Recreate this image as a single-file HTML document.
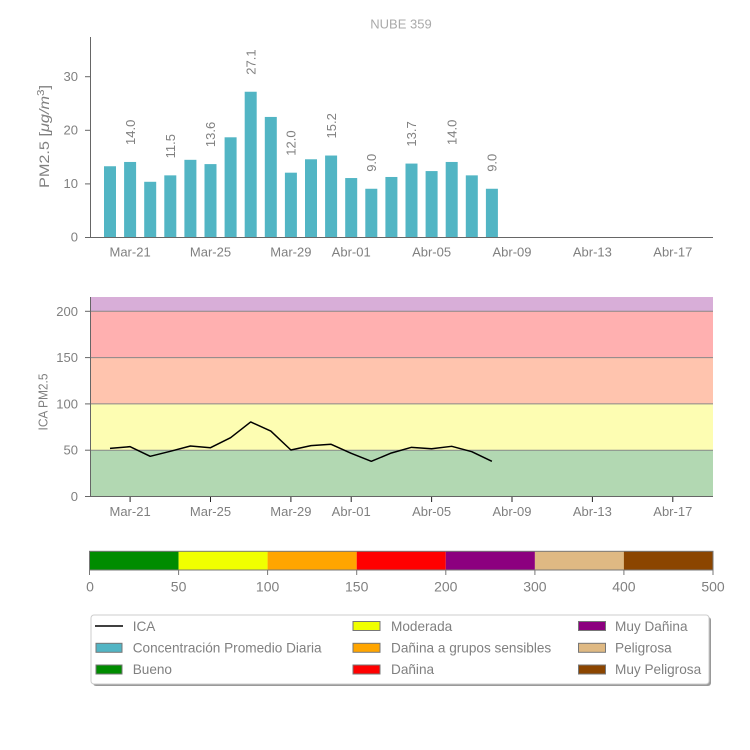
<!DOCTYPE html>
<html><head><meta charset="utf-8"><style>
html,body{margin:0;padding:0;background:#fff;}
svg{display:block;}
text{font-family:"Liberation Sans",sans-serif;fill:#808080;}
</style></head><body>
<svg width="750" height="750" viewBox="0 0 750 750" xmlns="http://www.w3.org/2000/svg">
<rect width="750" height="750" fill="#fff"/>
<!-- Title -->
<text x="401" y="28.5" font-size="13" text-anchor="middle" fill="#aaaaaa" style="fill:#aaaaaa">NUBE 359</text>

<!-- TOP CHART -->
<g fill="#52b5c4">
<rect x="104" y="166.25" width="12" height="70.75"/>
<rect x="124.1" y="161.96" width="12" height="75.04"/>
<rect x="144.2" y="181.79" width="12" height="55.21"/>
<rect x="164.3" y="175.36" width="12" height="61.64"/>
<rect x="184.4" y="159.82" width="12" height="77.18"/>
<rect x="204.5" y="164.1" width="12" height="72.9"/>
<rect x="224.6" y="137.3" width="12" height="99.7"/>
<rect x="244.7" y="91.74" width="12" height="145.26"/>
<rect x="264.8" y="116.94" width="12" height="120.06"/>
<rect x="284.9" y="172.68" width="12" height="64.32"/>
<rect x="305" y="159.28" width="12" height="77.72"/>
<rect x="325.1" y="155.53" width="12" height="81.47"/>
<rect x="345.2" y="178.04" width="12" height="58.96"/>
<rect x="365.3" y="188.76" width="12" height="48.24"/>
<rect x="385.4" y="176.97" width="12" height="60.03"/>
<rect x="405.5" y="163.57" width="12" height="73.43"/>
<rect x="425.6" y="171.07" width="12" height="65.93"/>
<rect x="445.7" y="161.96" width="12" height="75.04"/>
<rect x="465.8" y="175.36" width="12" height="61.64"/>
<rect x="485.9" y="188.76" width="12" height="48.24"/>
</g>
<g font-size="13">
<text transform="translate(134.8,145) rotate(-90)">14.0</text>
<text transform="translate(175,158.4) rotate(-90)">11.5</text>
<text transform="translate(215.2,147.1) rotate(-90)">13.6</text>
<text transform="translate(255.4,74.7) rotate(-90)">27.1</text>
<text transform="translate(295.6,155.7) rotate(-90)">12.0</text>
<text transform="translate(335.8,138.5) rotate(-90)">15.2</text>
<text transform="translate(376,171.8) rotate(-90)">9.0</text>
<text transform="translate(416.2,146.6) rotate(-90)">13.7</text>
<text transform="translate(456.4,145) rotate(-90)">14.0</text>
<text transform="translate(496.6,171.8) rotate(-90)">9.0</text>
</g>
<!-- axes top -->
<line x1="90.5" y1="37" x2="90.5" y2="237" stroke="#666" stroke-width="1"/>
<line x1="90" y1="237.5" x2="713" y2="237.5" stroke="#666" stroke-width="1"/>
<g stroke="#666" stroke-width="1">
<line x1="85" y1="237.5" x2="90" y2="237.5"/>
<line x1="85" y1="183.9" x2="90" y2="183.9"/>
<line x1="85" y1="130.3" x2="90" y2="130.3"/>
<line x1="85" y1="76.7" x2="90" y2="76.7"/>
</g>
<g font-size="13" text-anchor="end">
<text x="78" y="241.7">0</text>
<text x="78" y="188.1">10</text>
<text x="78" y="134.5">20</text>
<text x="78" y="80.9">30</text>
</g>
<g font-size="13" text-anchor="middle">
<text x="130.1" y="256.7">Mar-21</text>
<text x="210.5" y="256.7">Mar-25</text>
<text x="290.9" y="256.7">Mar-29</text>
<text x="351.2" y="256.7">Abr-01</text>
<text x="431.6" y="256.7">Abr-05</text>
<text x="512" y="256.7">Abr-09</text>
<text x="592.4" y="256.7">Abr-13</text>
<text x="672.8" y="256.7">Abr-17</text>
</g>
<text transform="translate(49,188) rotate(-90)" font-size="14" textLength="103" lengthAdjust="spacingAndGlyphs">PM2.5 [<tspan font-style="italic">μg/m</tspan><tspan dy="-5" font-size="10">3</tspan><tspan dy="5">]</tspan></text>

<!-- BOTTOM CHART -->
<rect x="90" y="450.2" width="623" height="46.3" fill="#b2d8b2"/>
<rect x="90" y="403.9" width="623" height="46.3" fill="#fdfdb2"/>
<rect x="90" y="357.6" width="623" height="46.3" fill="#ffc4ae"/>
<rect x="90" y="311.3" width="623" height="46.3" fill="#ffb0b0"/>
<rect x="90" y="297" width="623" height="14.3" fill="#d8aed8"/>
<g stroke="#888" stroke-width="1">
<line x1="90" y1="450.2" x2="713" y2="450.2"/>
<line x1="90" y1="403.9" x2="713" y2="403.9"/>
<line x1="90" y1="357.6" x2="713" y2="357.6"/>
<line x1="90" y1="311.3" x2="713" y2="311.3"/>
</g>
<polyline fill="none" stroke="#000" stroke-width="1.5" stroke-linejoin="round" points="110,448.35 130.1,446.68 150.2,456.31 170.3,451.31 190.4,446.03 210.5,447.7 230.6,437.7 250.7,421.96 270.8,431.03 290.9,450.01 311,445.66 331.1,444.27 351.2,453.35 371.3,461.31 391.4,452.98 411.5,447.33 431.6,448.72 451.7,446.31 471.8,451.68 491.9,461.31"/>
<line x1="90.5" y1="297" x2="90.5" y2="496.5" stroke="#666" stroke-width="1"/>
<line x1="90" y1="496.5" x2="713" y2="496.5" stroke="#666" stroke-width="1"/>
<g stroke="#666" stroke-width="1">
<line x1="85" y1="496.5" x2="90" y2="496.5"/>
<line x1="85" y1="450.2" x2="90" y2="450.2"/>
<line x1="85" y1="403.9" x2="90" y2="403.9"/>
<line x1="85" y1="357.6" x2="90" y2="357.6"/>
<line x1="85" y1="311.3" x2="90" y2="311.3"/>
</g>
<g stroke="#222" stroke-width="1">
<line x1="130.1" y1="497" x2="130.1" y2="502"/>
<line x1="210.5" y1="497" x2="210.5" y2="502"/>
<line x1="290.9" y1="497" x2="290.9" y2="502"/>
<line x1="351.2" y1="497" x2="351.2" y2="502"/>
<line x1="431.6" y1="497" x2="431.6" y2="502"/>
<line x1="512" y1="497" x2="512" y2="502"/>
<line x1="592.4" y1="497" x2="592.4" y2="502"/>
<line x1="672.8" y1="497" x2="672.8" y2="502"/>
</g>
<g font-size="13" text-anchor="end">
<text x="78" y="501">0</text>
<text x="78" y="454.7">50</text>
<text x="78" y="408.4">100</text>
<text x="78" y="362.1">150</text>
<text x="78" y="315.8">200</text>
</g>
<g font-size="13" text-anchor="middle">
<text x="130.1" y="516.2">Mar-21</text>
<text x="210.5" y="516.2">Mar-25</text>
<text x="290.9" y="516.2">Mar-29</text>
<text x="351.2" y="516.2">Abr-01</text>
<text x="431.6" y="516.2">Abr-05</text>
<text x="512" y="516.2">Abr-09</text>
<text x="592.4" y="516.2">Abr-13</text>
<text x="672.8" y="516.2">Abr-17</text>
</g>
<text transform="translate(47.5,430.5) rotate(-90)" font-size="13" textLength="57" lengthAdjust="spacingAndGlyphs">ICA PM2.5</text>

<!-- COLORBAR -->
<rect x="89.5" y="551.3" width="89.1" height="18.7" fill="#008c00"/>
<rect x="178.6" y="551.3" width="89.1" height="18.7" fill="#f0ff00"/>
<rect x="267.6" y="551.3" width="89.1" height="18.7" fill="#ffa500"/>
<rect x="356.7" y="551.3" width="89.1" height="18.7" fill="#ff0000"/>
<rect x="445.8" y="551.3" width="89.1" height="18.7" fill="#8c007f"/>
<rect x="534.9" y="551.3" width="89.1" height="18.7" fill="#dfb983"/>
<rect x="623.9" y="551.3" width="89.1" height="18.7" fill="#8b4500"/>
<rect x="89.5" y="551.3" width="623.5" height="18.7" fill="none" stroke="#777" stroke-width="1"/>
<g stroke="#777" stroke-width="1">
<line x1="89.5" y1="570" x2="89.5" y2="575"/>
<line x1="178.6" y1="570" x2="178.6" y2="575"/>
<line x1="267.6" y1="570" x2="267.6" y2="575"/>
<line x1="356.7" y1="570" x2="356.7" y2="575"/>
<line x1="445.8" y1="570" x2="445.8" y2="575"/>
<line x1="534.9" y1="570" x2="534.9" y2="575"/>
<line x1="623.9" y1="570" x2="623.9" y2="575"/>
<line x1="713" y1="570" x2="713" y2="575"/>
</g>
<g font-size="14" text-anchor="middle">
<text x="90" y="591.7">0</text>
<text x="178.6" y="591.7">50</text>
<text x="267.6" y="591.7">100</text>
<text x="356.7" y="591.7">150</text>
<text x="445.8" y="591.7">200</text>
<text x="534.9" y="591.7">300</text>
<text x="623.9" y="591.7">400</text>
<text x="713" y="591.7">500</text>
</g>

<!-- LEGEND -->
<rect x="93" y="617" width="618" height="69" rx="3" ry="3" fill="#999"/>
<rect x="91" y="615" width="618" height="69" rx="3" ry="3" fill="#fff" stroke="#ccc" stroke-width="1"/>
<line x1="95" y1="626" x2="123" y2="626" stroke="#000" stroke-width="1.5"/>
<g stroke="#777" stroke-width="1">
<rect x="96" y="643.3" width="26" height="9" fill="#52b5c4"/>
<rect x="96" y="665" width="26" height="9" fill="#008c00"/>
<rect x="353" y="621.5" width="27" height="9" fill="#f0ff00"/>
<rect x="353" y="643.3" width="27" height="9" fill="#ffa500"/>
<rect x="353" y="665" width="27" height="9" fill="#ff0000"/>
<rect x="578.5" y="621.5" width="27" height="9" fill="#8c007f"/>
<rect x="578.5" y="643.3" width="27" height="9" fill="#dfb983"/>
<rect x="578.5" y="665" width="27" height="9" fill="#8b4500"/>
</g>
<g font-size="13.6">
<text x="132.7" y="630.8">ICA</text>
<text x="132.7" y="652.5">Concentración Promedio Diaria</text>
<text x="132.7" y="674.1">Bueno</text>
<text x="391" y="630.8">Moderada</text>
<text x="391" y="652.5">Dañina a grupos sensibles</text>
<text x="391" y="674.1">Dañina</text>
<text x="615" y="630.8">Muy Dañina</text>
<text x="615" y="652.5">Peligrosa</text>
<text x="615" y="674.1">Muy Peligrosa</text>
</g>
</svg>
</body></html>
